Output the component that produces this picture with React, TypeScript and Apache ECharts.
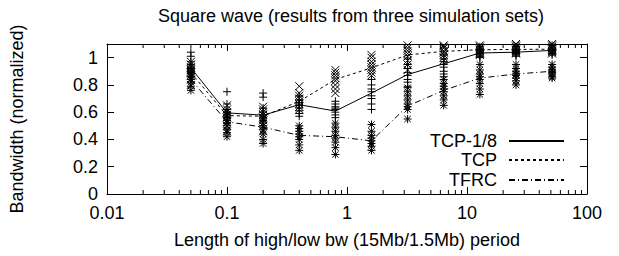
import React, { useEffect, useRef } from "react";
import * as echarts from "echarts";

// Period lengths (s) on the log x axis
const periods = [0.05, 0.1, 0.2, 0.4, 0.8, 1.6, 3.2, 6.4, 12.8, 25.6, 51.2];

// Mean lines
const tcp18Mean = [0.925, 0.595, 0.578, 0.655, 0.608, 0.74, 0.876, 0.955, 1.034, 1.04, 1.053];
const tcpMean = [0.89, 0.575, 0.57, 0.68, 0.84, 0.925, 1.02, 1.046, 1.058, 1.06, 1.062];
const tfrcMean = [0.84, 0.53, 0.49, 0.43, 0.42, 0.39, 0.645, 0.76, 0.85, 0.88, 0.9];

// Individual simulation results (one row per period)
const tcp18Runs = [
  [1.04, 1.01, 0.97, 0.95, 0.93, 0.91, 0.89, 0.86],
  [0.75, 0.66, 0.62, 0.6, 0.58, 0.56, 0.54, 0.52],
  [0.74, 0.71, 0.63, 0.6, 0.58, 0.56, 0.54, 0.5],
  [0.72, 0.69, 0.67, 0.65, 0.63, 0.61, 0.59, 0.57],
  [0.68, 0.66, 0.64, 0.63, 0.62, 0.6, 0.58, 0.56],
  [0.84, 0.8, 0.77, 0.75, 0.72, 0.7, 0.66, 0.62],
  [0.99, 0.95, 0.92, 0.89, 0.87, 0.84, 0.82, 0.79],
  [1.02, 0.99, 0.97, 0.95, 0.93, 0.9, 0.88, 0.86],
  [1.08, 1.06, 1.05, 1.04, 1.03, 1.02, 1.01, 1.0],
  [1.08, 1.06, 1.05, 1.04, 1.04, 1.03, 1.02, 1.01],
  [1.09, 1.07, 1.06, 1.05, 1.05, 1.04, 1.03, 1.02],
];
const tcpRuns = [
  [0.97, 0.95, 0.93, 0.91, 0.89, 0.87, 0.84, 0.8],
  [0.65, 0.62, 0.6, 0.58, 0.56, 0.53, 0.5, 0.46],
  [0.64, 0.62, 0.6, 0.58, 0.56, 0.54, 0.5, 0.46],
  [0.79, 0.74, 0.72, 0.7, 0.68, 0.66, 0.64, 0.62],
  [0.91, 0.89, 0.87, 0.85, 0.83, 0.8, 0.77, 0.74],
  [1.02, 1.0, 0.97, 0.95, 0.93, 0.91, 0.89, 0.87],
  [1.09, 1.07, 1.05, 1.03, 1.01, 0.98, 0.95, 0.91],
  [1.09, 1.08, 1.07, 1.05, 1.04, 1.02, 1.0, 0.98],
  [1.09, 1.08, 1.07, 1.06, 1.05, 1.04, 1.03, 1.02],
  [1.1, 1.09, 1.08, 1.07, 1.06, 1.05, 1.04, 1.03],
  [1.1, 1.09, 1.08, 1.07, 1.06, 1.05, 1.04, 1.03],
];
const tfrcRuns = [
  [0.92, 0.9, 0.88, 0.86, 0.84, 0.82, 0.79, 0.76],
  [0.6, 0.57, 0.54, 0.52, 0.5, 0.47, 0.45, 0.42],
  [0.58, 0.55, 0.52, 0.5, 0.47, 0.44, 0.4, 0.37],
  [0.5, 0.48, 0.46, 0.44, 0.42, 0.4, 0.36, 0.32],
  [0.52, 0.49, 0.46, 0.43, 0.41, 0.38, 0.34, 0.29],
  [0.51, 0.46, 0.43, 0.41, 0.39, 0.37, 0.35, 0.32],
  [0.78, 0.75, 0.72, 0.69, 0.66, 0.64, 0.62, 0.55],
  [0.84, 0.81, 0.79, 0.77, 0.75, 0.72, 0.69, 0.65],
  [0.95, 0.91, 0.88, 0.86, 0.84, 0.81, 0.77, 0.73],
  [0.95, 0.92, 0.9, 0.88, 0.87, 0.85, 0.83, 0.8],
  [0.95, 0.93, 0.91, 0.9, 0.89, 0.88, 0.86, 0.85],
];

// Minor tick positions of the log axis
const minorTicks = [
  0.02, 0.03, 0.04, 0.05, 0.06, 0.07, 0.08, 0.09,
  0.2, 0.3, 0.4, 0.5, 0.6, 0.7, 0.8, 0.9,
  2, 3, 4, 5, 6, 7, 8, 9,
  20, 30, 40, 50, 60, 70, 80, 90,
];

const FONT = "Liberation Sans";
const Y_MAX = 1.1;

const PLUS = "path://M5,0L5,10M0,5L10,5";
const CROSS = "path://M0,0L10,10M0,10L10,0";
const STAR = "path://M5,0L5,10M0,5L10,5M1,1L9,9M1,9L9,1";

function runsToPoints(runs: number[][]) {
  const pts: number[][] = [];
  runs.forEach((row, i) => row.forEach((v) => pts.push([periods[i], v])));
  return pts;
}
function meanToPoints(m: number[]) {
  return m.map((v, i) => [periods[i], v]);
}

const AXIS_LINE = { show: true, onZero: false, lineStyle: { color: "#000", width: 1 } };
const AXIS_TICK = { show: true, inside: true, length: 7, lineStyle: { color: "#000", width: 1 } };

export default function App() {
  const ref = useRef<HTMLDivElement>(null);
  useEffect(() => {
    document.body.style.margin = "0";
    const chart = echarts.init(ref.current!, undefined, { renderer: "svg" });
    const lineSeries = (name: string, data: number[], type: any) => ({
      name,
      type: "line",
      data: meanToPoints(data),
      symbol: "none",
      showSymbol: false,
      lineStyle: { color: "#000", width: 1, type },
      itemStyle: { color: "#000" },
      z: 3,
    });
    const scatter = (name: string, runs: number[][], symbol: string) => ({
      name,
      type: "scatter",
      data: runsToPoints(runs),
      symbol,
      symbolSize: 8,
      itemStyle: { color: "none", borderColor: "#000", borderWidth: 1, opacity: 1 },
      z: 2,
    });
    const legend = (name: string, top: number) => ({
      data: [name],
      right: 54,
      top,
      padding: 0,
      align: "right",
      itemWidth: 55,
      itemHeight: 14,
      itemGap: 0,
      selectedMode: false,
      itemStyle: { opacity: 0 },
      textStyle: { fontFamily: FONT, fontSize: 18, color: "#000", padding: [0, 7, 0, 0] },
    });
    chart.setOption({
      animation: false,
      title: {
        text: "Square wave (results from three simulation sets)",
        left: 346,
        top: 2,
        textAlign: "center",
        textStyle: { fontFamily: FONT, fontSize: 18, fontWeight: "normal", color: "#000" },
      },
      legend: [legend("TCP-1/8", 132), legend("TCP", 151), legend("TFRC", 171)],
      grid: { left: 105, right: 32, top: 44, bottom: 62 },
      xAxis: [
        {
          type: "log",
          logBase: 10,
          min: 0.01,
          max: 100,
          position: "bottom",
          name: "Length of high/low bw (15Mb/1.5Mb) period",
          nameLocation: "middle",
          nameGap: 37,
          nameTextStyle: { fontFamily: FONT, fontSize: 18, color: "#000" },
          axisLine: AXIS_LINE,
          axisTick: AXIS_TICK,
          axisLabel: {
            fontFamily: FONT,
            fontSize: 18,
            color: "#000",
            margin: 10,
            formatter: (v: number) => String(+v.toPrecision(3)),
          },
          splitLine: { show: false },
        },
        {
          type: "log",
          logBase: 10,
          min: 0.01,
          max: 100,
          position: "top",
          axisLine: AXIS_LINE,
          axisTick: AXIS_TICK,
          axisLabel: { show: false },
          splitLine: { show: false },
        },
      ],
      yAxis: [
        {
          type: "value",
          min: 0,
          max: Y_MAX,
          interval: 0.2,
          position: "left",
          name: "Bandwidth (normalized)",
          nameLocation: "middle",
          nameGap: 81,
          nameTextStyle: { fontFamily: FONT, fontSize: 18, color: "#000" },
          axisLine: AXIS_LINE,
          axisTick: AXIS_TICK,
          axisLabel: {
            fontFamily: FONT,
            fontSize: 18,
            color: "#000",
            margin: 9,
            formatter: (v: number) => (v > 1.05 ? "" : String(+v.toFixed(1))),
          },
          splitLine: { show: false },
        },
        {
          type: "value",
          min: 0,
          max: Y_MAX,
          interval: 0.2,
          position: "right",
          axisLine: AXIS_LINE,
          axisTick: AXIS_TICK,
          axisLabel: { show: false },
          splitLine: { show: false },
        },
      ],
      series: [
        scatter("TCP-1/8 runs", tcp18Runs, PLUS),
        scatter("TCP runs", tcpRuns, CROSS),
        scatter("TFRC runs", tfrcRuns, STAR),
        lineSeries("TCP-1/8", tcp18Mean, "solid"),
        lineSeries("TCP", tcpMean, [3, 3]),
        lineSeries("TFRC", tfrcMean, [6, 3, 1, 3]),
        {
          name: "minor ticks",
          type: "custom",
          data: minorTicks.map((v) => [v, 0]),
          silent: true,
          z: 4,
          renderItem: (_p: any, api: any) => {
            const v = api.value(0);
            const b = api.coord([v, 0]);
            const t = api.coord([v, Y_MAX]);
            return {
              type: "group",
              children: [
                { type: "line", shape: { x1: b[0], y1: b[1], x2: b[0], y2: b[1] - 4 }, style: { stroke: "#000", lineWidth: 1 } },
                { type: "line", shape: { x1: t[0], y1: t[1], x2: t[0], y2: t[1] + 4 }, style: { stroke: "#000", lineWidth: 1 } },
              ],
            };
          },
        },
      ],
    });
    return () => chart.dispose();
  }, []);
  return <div ref={ref} style={{ width: 619, height: 256 }} />;
}
